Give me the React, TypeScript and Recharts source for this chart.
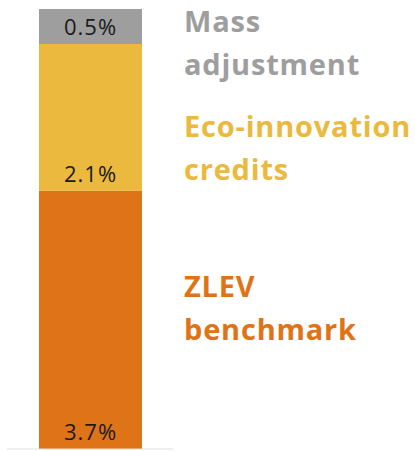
import { BarChart, Bar, XAxis, YAxis, LabelList } from "recharts";

// single stacked bar, bottom to top
const category = ["Target"];
const zlevBenchmark = [3.7];
const ecoInnovation = [2.1];
const massAdjustment = [0.5];

const series = [
  { key: "zlev", label: ["ZLEV", "benchmark"], values: zlevBenchmark, color: "#DE7417", legendTop: 264 },
  { key: "eco", label: ["Eco-innovation", "credits"], values: ecoInnovation, color: "#EBB93E", legendTop: 104 },
  { key: "mass", label: ["Mass", "adjustment"], values: massAdjustment, color: "#9E9E9E", legendTop: -1 },
];

const data = category.map((name, i) => {
  const row: Record<string, string | number> = { name };
  series.forEach((s) => (row[s.key] = s.values[i]));
  return row;
});

const FONT = "'Open Sans', 'Noto Sans', sans-serif";

// value label sits at the bottom of its segment
// eslint-disable-next-line @typescript-eslint/no-explicit-any
function SegmentLabel({ x, y, width, height, value }: any) {
  return (
    <text
      x={x + width / 2}
      y={y + height - 9}
      textAnchor="middle"
      fontFamily={FONT}
      fontSize={22}
      letterSpacing={1}
      fill="#1a1a1a"
    >
      {`${value}%`}
    </text>
  );
}

function SideLegend() {
  return (
    <div style={{ position: "absolute", left: 184, top: 0, width: 231, height: 451 }}>
      {series.map((s) => (
        <div
          key={s.key}
          style={{
            position: "absolute",
            left: 0,
            top: s.legendTop,
            color: s.color,
            fontFamily: FONT,
            fontWeight: 700,
            fontSize: 29,
            letterSpacing: 0.8,
            lineHeight: "43px",
            whiteSpace: "nowrap",
          }}
        >
          {s.label.map((line) => (
            <div key={line}>{line}</div>
          ))}
        </div>
      ))}
    </div>
  );
}

export default function App() {
  return (
    <div style={{ position: "absolute", left: 0, top: 0, width: 415, height: 451, background: "white", overflow: "hidden" }}>
      <BarChart width={415} height={451} data={data} margin={{ top: 9, right: 242, bottom: 1, left: 7 }}>
        <XAxis dataKey="name" tick={false} tickLine={false} axisLine={{ stroke: "#E0E0E0" }} height={1} />
        <YAxis hide domain={[0, 6.3]} />
        {series.map((s) => (
          <Bar key={s.key} dataKey={s.key} stackId="a" fill={s.color} barSize={103} isAnimationActive={false}>
            <LabelList dataKey={s.key} content={<SegmentLabel />} />
          </Bar>
        ))}
      </BarChart>
      <SideLegend />
    </div>
  );
}
